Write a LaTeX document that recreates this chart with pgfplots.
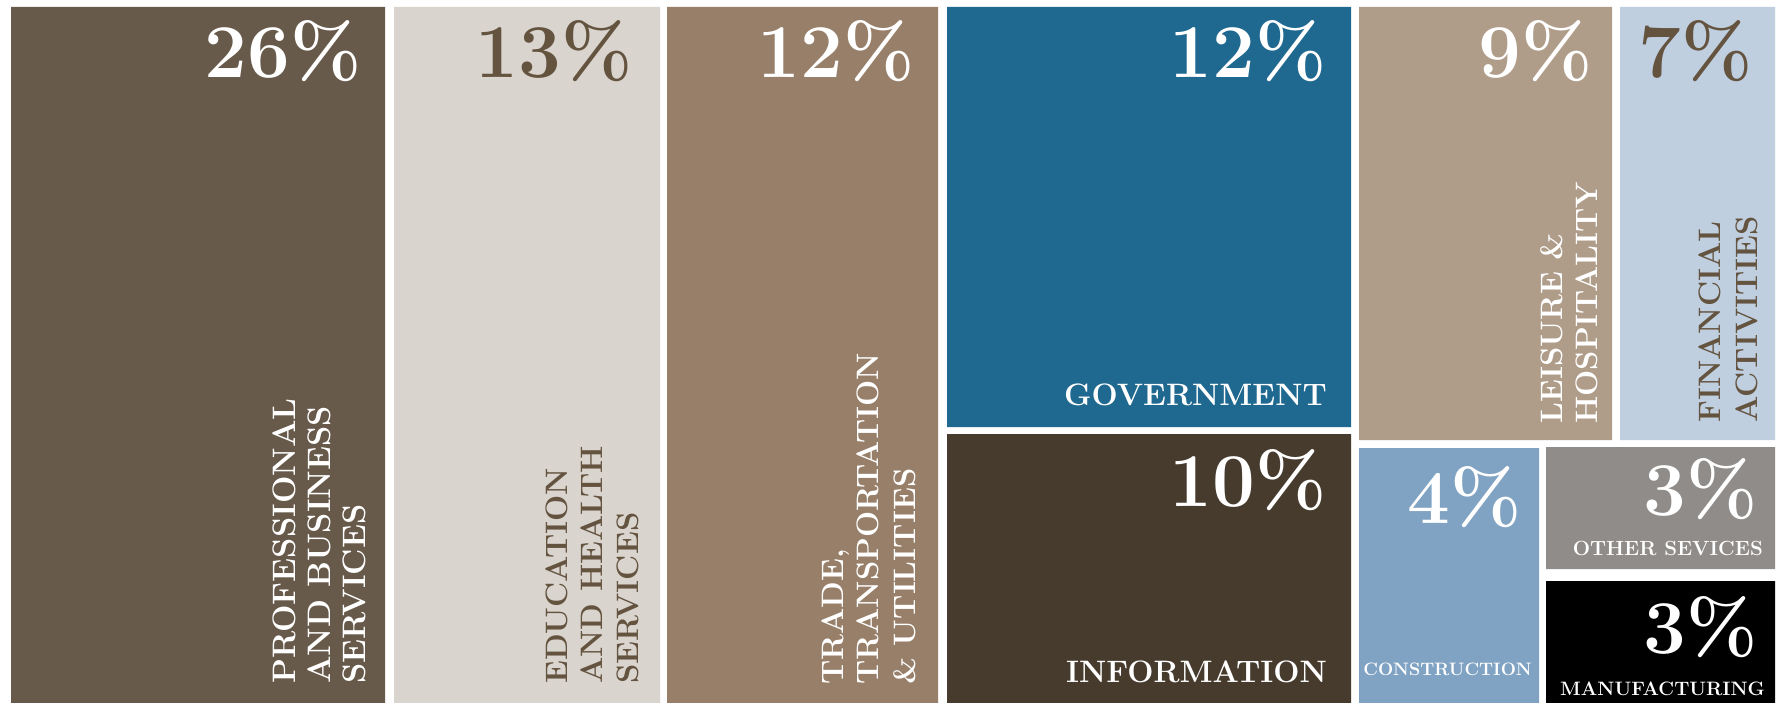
\documentclass[border=0pt]{standalone}
\usepackage{fontspec}
\usepackage{pgfplots}
\pgfplotsset{compat=1.18}
\definecolor{cProf}{HTML}{685A4A}
\definecolor{cEdu}{HTML}{D9D4CE}
\definecolor{cTrade}{HTML}{977F69}
\definecolor{cGov}{HTML}{1F6890}
\definecolor{cInfo}{HTML}{473B2E}
\definecolor{cLeis}{HTML}{AF9D8A}
\definecolor{cFin}{HTML}{BFCFE0}
\definecolor{cCons}{HTML}{81A3C3}
\definecolor{cOther}{HTML}{8F8C89}
\definecolor{cManu}{HTML}{000000}
\definecolor{cDark}{HTML}{64533F}
\newcommand\lab[1]{\fontsize{#1}{#1}\selectfont\bfseries\addfontfeature{FakeBold=2.2}}
\tikzset{
  pct/.style={anchor=base east, inner sep=0pt, font=\fontsize{76}{76}\selectfont\bfseries\addfontfeature{FakeBold=1.2}},
  hlab/.style={anchor=base east, inner sep=0pt},
  vlab/.style={anchor=base west, rotate=90, inner sep=0pt},
}
\begin{document}
\begin{tikzpicture}
\begin{axis}[
  width=1783pt, height=703pt, scale only axis,
  xmin=0, xmax=1783, ymin=0, ymax=703, y dir=reverse,
  hide axis, clip=false,
]
% background
\addplot[fill=white, draw=none] coordinates {(0,0)(1783,0)(1783,703)(0,703)(0,0)};
% tiles (pixel-space rectangles: x0,x1,y0,y1)
\addplot[fill=cProf, draw=none]  coordinates {(11,7)(385,7)(385,703)(11,703)(11,7)};
\addplot[fill=cEdu, draw=none]   coordinates {(394,7)(660,7)(660,703)(394,703)(394,7)};
\addplot[fill=cTrade, draw=none] coordinates {(667,7)(938,7)(938,703)(667,703)(667,7)};
\addplot[fill=cGov, draw=none]   coordinates {(947,7)(1351,7)(1351,427)(947,427)(947,7)};
\addplot[fill=cInfo, draw=none]  coordinates {(947,434)(1351,434)(1351,703)(947,703)(947,434)};
\addplot[fill=cLeis, draw=none]  coordinates {(1359,7)(1612,7)(1612,440)(1359,440)(1359,7)};
\addplot[fill=cFin, draw=none]   coordinates {(1620,7)(1775,7)(1775,440)(1620,440)(1620,7)};
\addplot[fill=cCons, draw=none]  coordinates {(1359,448)(1539,448)(1539,703)(1359,703)(1359,448)};
\addplot[fill=cOther, draw=none] coordinates {(1546,447)(1775,447)(1775,569)(1546,569)(1546,447)};
\addplot[fill=cManu, draw=none]  coordinates {(1546,581)(1775,581)(1775,703)(1546,703)(1546,581)};

% percentages
\node[pct, text=white] at (axis cs:362,78) {26\%};
\node[pct, text=cDark] at (axis cs:633,78) {13\%};
\node[pct, text=white] at (axis cs:915,78) {12\%};
\node[pct, text=white] at (axis cs:1327,78) {12\%};
\node[pct, text=white] at (axis cs:1327,506) {10\%};
\node[pct, text=white] at (axis cs:1593,78) {9\%};
\node[pct, text=cDark] at (axis cs:1753,78) {7\%};
\node[pct, text=white] at (axis cs:1522,523) {4\%};
\node[pct, text=white] at (axis cs:1758,515) {3\%};
\node[pct, text=white] at (axis cs:1758,653) {3\%};

% horizontal labels
\node[hlab, text=white, font=\lab{31}] at (axis cs:1327,405) {GOVERNMENT};
\node[hlab, text=white, font=\lab{31}] at (axis cs:1327,682) {INFORMATION};
\node[hlab, text=white, font=\lab{18}] at (axis cs:1532,675) {CONSTRUCTION};
\node[hlab, text=white, font=\lab{20.5}] at (axis cs:1763,555) {OTHER SEVICES};
\node[hlab, text=white, font=\lab{19.4}] at (axis cs:1765,695) {MANUFACTURING};

% vertical labels
\node[vlab, text=white, font=\lab{32.5}] at (axis cs:295,684) {PROFESSIONAL};
\node[vlab, text=white, font=\lab{32.5}] at (axis cs:330,684) {AND BUSINESS};
\node[vlab, text=white, font=\lab{32.5}] at (axis cs:365,684) {SERVICES};

\node[vlab, text=cDark, font=\lab{31}] at (axis cs:567,684) {EDUCATION};
\node[vlab, text=cDark, font=\lab{31}] at (axis cs:602,684) {AND HEALTH};
\node[vlab, text=cDark, font=\lab{31}] at (axis cs:638,684) {SERVICES};

\node[vlab, text=white, font=\lab{31}] at (axis cs:843,685) {TRADE,};
\node[vlab, text=white, font=\lab{31}] at (axis cs:878,685) {TRANSPORTATION};
\node[vlab, text=white, font=\lab{31}] at (axis cs:915,685) {\& UTILITIES};

\node[vlab, text=white, font=\lab{31}] at (axis cs:1562,424) {LEISURE \&};
\node[vlab, text=white, font=\lab{31}] at (axis cs:1597,424) {HOSPITALITY};

\node[vlab, text=cDark, font=\lab{31}] at (axis cs:1720,423) {FINANCIAL};
\node[vlab, text=cDark, font=\lab{31}] at (axis cs:1757,423) {ACTIVITIES};
\end{axis}
\end{tikzpicture}
\end{document}
